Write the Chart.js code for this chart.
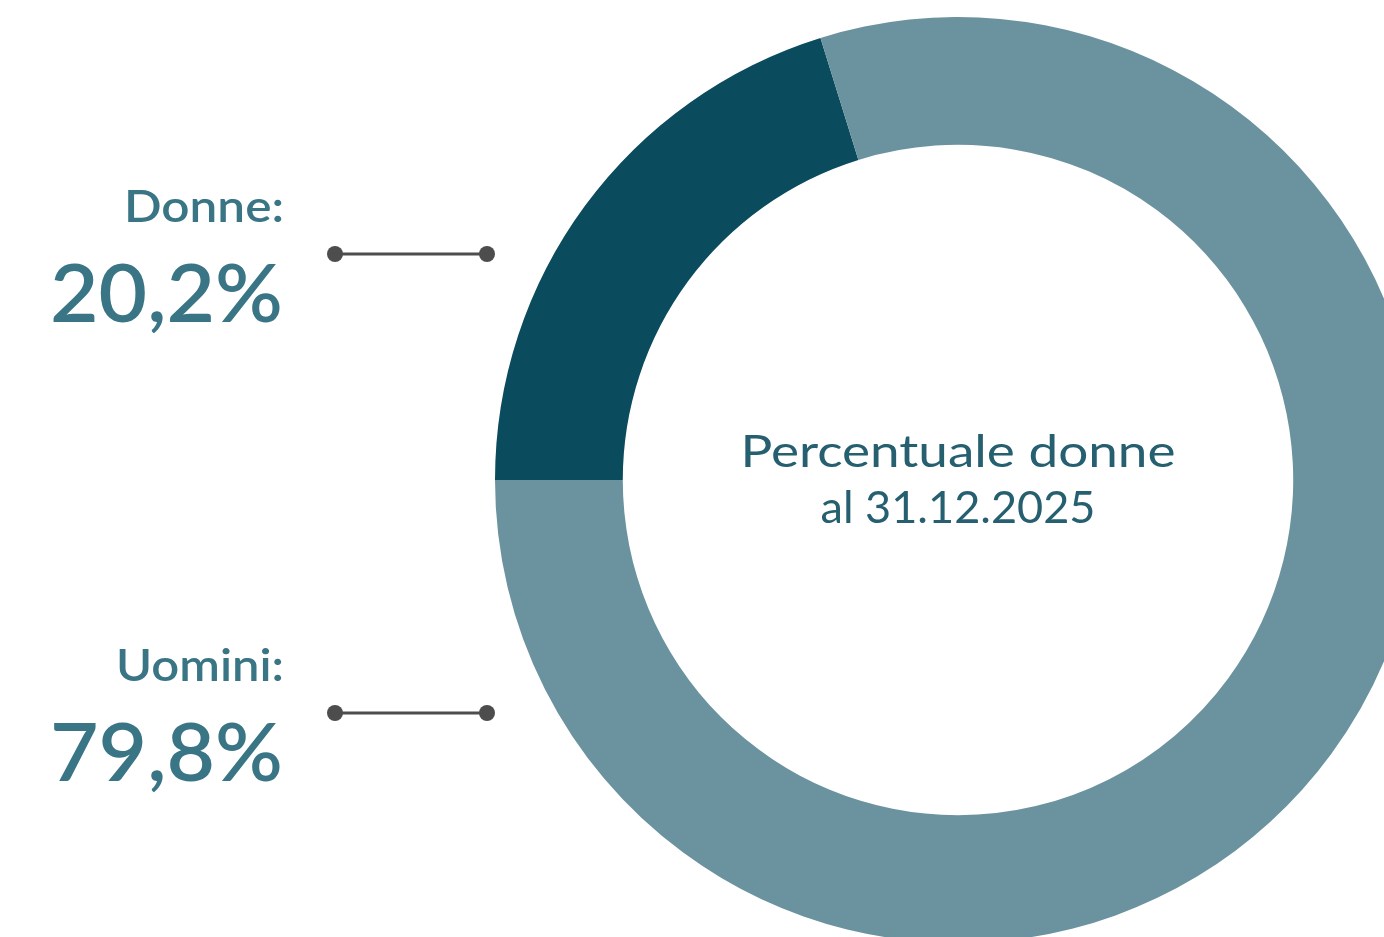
<!DOCTYPE html>
<html lang="it">
<head>
<meta charset="utf-8">
<title>Percentuale donne al 31.12.2025</title>
<script src="https://cdn.jsdelivr.net/npm/chart.js@4.4.1/dist/chart.umd.min.js"></script>
<style>
  html, body { margin: 0; padding: 0; background: #ffffff; overflow: hidden; }
  #wrap { position: absolute; left: 0; top: 0; width: 1421px; height: 943px; }
</style>
</head>
<body>
<div id="wrap"><canvas id="chart"></canvas></div>
<script>
// Data
var categories = ['Donne', 'Uomini'];
var shares = [20.2, 79.8];
var shareLabels = ['20,2%', '79,8%'];
var centerLines = ['Percentuale donne', 'al 31.12.2025'];

var segmentColors = ['#0b4b5e', '#6b939f'];
var labelColor = '#3a7585';
var centerColor = '#255f70';
var connectorColor = '#4d4d4d';
var fontFamily = 'Lato, "Open Sans", sans-serif';

// Draw text stretched horizontally so it spans the given width
function fillStretched(ctx, text, x, y, width, align) {
  var natural = ctx.measureText(text).width;
  var sx = width / natural;
  ctx.save();
  ctx.textAlign = align;
  ctx.translate(x, y);
  ctx.scale(sx, 1);
  ctx.fillText(text, 0, 0);
  ctx.restore();
}

// Side labels with connector lines, plus the text in the hole
var annotatePlugin = {
  id: 'annotate',
  afterDraw: function(chart) {
    var ctx = chart.ctx;
    var arc = chart.getDatasetMeta(0).data[0];
    var cx = arc.x, cy = arc.y;

    ctx.save();
    ctx.textBaseline = 'alphabetic';

    // centre text
    ctx.fillStyle = centerColor;
    ctx.font = '400 45px ' + fontFamily;
    fillStretched(ctx, centerLines[0], cx, cy - 13, 435, 'center');
    fillStretched(ctx, centerLines[1], cx, cy + 43, 275, 'center');

    // side labels
    var rows = [254, 713];
    var nameWidths = [160, 168];
    categories.forEach(function(name, i) {
      var y = rows[i];
      ctx.fillStyle = labelColor;
      ctx.font = '600 45px ' + fontFamily;
      fillStretched(ctx, name + ':', 284, y - 32, nameWidths[i], 'right');
      ctx.font = '600 80px ' + fontFamily;
      fillStretched(ctx, shareLabels[i], 283, y + 68, 233, 'right');

      ctx.strokeStyle = connectorColor;
      ctx.lineWidth = 3;
      ctx.beginPath();
      ctx.moveTo(335, y);
      ctx.lineTo(487, y);
      ctx.stroke();
      ctx.fillStyle = connectorColor;
      [335, 487].forEach(function(x) {
        ctx.beginPath();
        ctx.arc(x, y, 8, 0, Math.PI * 2);
        ctx.fill();
      });
    });
    ctx.restore();
  }
};

new Chart(document.getElementById('chart'), {
  type: 'doughnut',
  data: {
    labels: categories,
    datasets: [{
      data: shares,
      backgroundColor: segmentColors,
      borderWidth: 0
    }]
  },
  options: {
    responsive: true,
    maintainAspectRatio: false,
    animation: false,
    rotation: 270,
    cutout: '72.4%',
    layout: { padding: { left: 495, top: 17, right: 0, bottom: 0 } },
    plugins: {
      legend: { display: false },
      tooltip: { enabled: false }
    }
  },
  plugins: [annotatePlugin]
});
</script>
</body>
</html>
